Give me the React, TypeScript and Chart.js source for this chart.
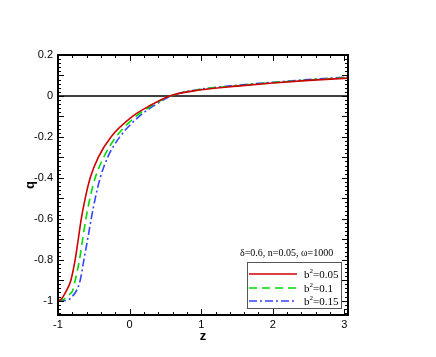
import React, { useEffect, useRef } from "react";
import { Chart, registerables } from "chart.js";

Chart.register(...registerables);

// z values and q values for each series
const zRed = [-1.0, -0.96, -0.92, -0.88, -0.82, -0.76, -0.717, -0.675, -0.62, -0.55, -0.438, -0.26, 0.04, 0.26, 0.56, 1.0, 1.5, 2.0, 2.5, 3.05];
const qRed = [-1.0, -0.995, -0.975, -0.95, -0.9, -0.8, -0.7, -0.6, -0.5, -0.4, -0.3, -0.2, -0.1, -0.052, 0.0, 0.03, 0.048, 0.063, 0.076, 0.087];

const zGreen = [-1.0, -0.93, -0.86, -0.795, -0.76, -0.7, -0.656, -0.61, -0.554, -0.48, -0.363, -0.19, 0.087, 0.29, 0.57, 1.0, 1.5, 2.0, 2.5, 3.05];
const qGreen = [-1.0, -0.995, -0.975, -0.95, -0.9, -0.8, -0.7, -0.6, -0.5, -0.4, -0.3, -0.2, -0.1, -0.052, 0.0, 0.032, 0.05, 0.065, 0.078, 0.09];

const zBlue = [-1.0, -0.93, -0.85, -0.79, -0.74, -0.69, -0.638, -0.586, -0.536, -0.48, -0.41, -0.307, -0.136, 0.133, 0.33, 0.58, 1.0, 1.5, 2.0, 2.5, 3.05];
const qBlue = [-1.0, -1.0, -0.995, -0.975, -0.95, -0.9, -0.8, -0.7, -0.6, -0.5, -0.4, -0.3, -0.2, -0.1, -0.05, 0.0, 0.033, 0.052, 0.067, 0.08, 0.093];

const seriesLabels = ["0.05", "0.1", "0.15"];
const seriesColors = ["#d00000", "#00dd00", "#3344ff"];
const seriesDash: number[][] = [[], [8, 5], [8, 3, 2, 3]];
const annotation = "\u03b4=0.6, n=0.05, \u03c9=1000";

const xTickLabels = [-1, 0, 1, 2, 3];
const yTickLabels = [-1, -0.8, -0.6, -0.4, -0.2, 0, 0.2];

const toPoints = (xs: number[], ys: number[]) => xs.map((x, i) => ({ x, y: ys[i] }));

const framePlugin = {
  id: "framePlugin",
  beforeDatasetsDraw(chart: any) {
    const { ctx, chartArea, scales } = chart;
    const y0 = scales.y.getPixelForValue(0);
    ctx.save();
    ctx.strokeStyle = "#000";
    ctx.lineWidth = 1.5;
    ctx.beginPath();
    ctx.moveTo(chartArea.left, y0);
    ctx.lineTo(chartArea.right, y0);
    ctx.stroke();
    ctx.restore();
  },
  afterDatasetsDraw(chart: any) {
    const { ctx, chartArea, scales } = chart;
    const { left, right, top, bottom } = chartArea;
    ctx.save();
    ctx.strokeStyle = "#000";
    ctx.lineWidth = 1;
    // x ticks
    for (let k = -5; k <= 15; k++) {
      const v = k * 0.2;
      const px = Math.round(scales.x.getPixelForValue(v)) + 0.5;
      if (px < left - 1 || px > right + 1) continue;
      const len = k % 5 === 0 ? 6 : 3;
      ctx.beginPath();
      ctx.moveTo(px, bottom);
      ctx.lineTo(px, bottom - len);
      ctx.moveTo(px, top);
      ctx.lineTo(px, top + len);
      ctx.stroke();
    }
    // y ticks
    for (let k = -53; k <= 10; k++) {
      const v = k * 0.02;
      const py = Math.round(scales.y.getPixelForValue(v)) + 0.5;
      if (py < top - 1 || py > bottom + 1) continue;
      const len = k % 5 === 0 ? 6 : 3;
      ctx.beginPath();
      ctx.moveTo(left, py);
      ctx.lineTo(left + len, py);
      ctx.moveTo(right, py);
      ctx.lineTo(right - len, py);
      ctx.stroke();
    }
    // frame
    ctx.lineWidth = 2;
    ctx.strokeRect(left, top, right - left, bottom - top);

    // axis titles
    ctx.fillStyle = "#000";
    ctx.font = "bold 13px 'Liberation Sans', Arial, sans-serif";
    ctx.textAlign = "center";
    ctx.textBaseline = "middle";
    ctx.fillText("z", (left + right) / 2, 336);
    ctx.save();
    ctx.translate(30, (top + bottom) / 2);
    ctx.rotate(-Math.PI / 2);
    ctx.fillText("q", 0, 0);
    ctx.restore();

    // annotation
    ctx.font = "10px 'Liberation Serif', 'Times New Roman', serif";
    ctx.textAlign = "left";
    ctx.textBaseline = "alphabetic";
    ctx.fillText(annotation, 240, 256);

    // legend box
    const bx = 247, by = 262, bw = 94, bh = 46;
    ctx.fillStyle = "#fff";
    ctx.fillRect(bx, by, bw, bh);
    ctx.strokeStyle = "#555";
    ctx.lineWidth = 1;
    ctx.strokeRect(bx + 0.5, by + 0.5, bw, bh);
    const rows = [274, 288, 301];
    seriesLabels.forEach((lab, i) => {
      const ry = rows[i];
      ctx.strokeStyle = seriesColors[i];
      ctx.lineWidth = 1.5;
      ctx.setLineDash(seriesDash[i]);
      ctx.beginPath();
      ctx.moveTo(249, ry);
      ctx.lineTo(297, ry);
      ctx.stroke();
      ctx.setLineDash([]);
      ctx.fillStyle = "#000";
      ctx.textBaseline = "alphabetic";
      ctx.font = "11px 'Liberation Serif', 'Times New Roman', serif";
      ctx.fillText("b", 304, ry + 4);
      const bwid = ctx.measureText("b").width;
      ctx.font = "7px 'Liberation Serif', 'Times New Roman', serif";
      ctx.fillText("2", 304 + bwid, ry - 1);
      const swid = ctx.measureText("2").width;
      ctx.font = "11px 'Liberation Serif', 'Times New Roman', serif";
      ctx.fillText("=" + lab, 304 + bwid + swid, ry + 4);
    });
    ctx.restore();
  },
};

export default function App() {
  const ref = useRef<HTMLCanvasElement | null>(null);
  useEffect(() => {
    if (!ref.current) return;
    const mk = (label: string, xs: number[], ys: number[], i: number) => ({
      label: "b\u00b2=" + label,
      data: toPoints(xs, ys),
      borderColor: seriesColors[i],
      borderWidth: 1.6,
      borderDash: seriesDash[i],
      pointRadius: 0,
      fill: false,
      cubicInterpolationMode: "monotone" as const,
    });
    const chart = new Chart(ref.current, {
      type: "line",
      data: {
        datasets: [
          mk(seriesLabels[0], zRed, qRed, 0),
          mk(seriesLabels[1], zGreen, qGreen, 1),
          mk(seriesLabels[2], zBlue, qBlue, 2),
        ],
      },
      options: {
        animation: false,
        responsive: false,
        layout: { padding: { left: 0, top: 55, right: 88, bottom: 0 } },
        plugins: { legend: { display: false }, tooltip: { enabled: false } },
        scales: {
          x: {
            type: "linear",
            min: -1,
            max: 3.05,
            grid: { display: false, drawTicks: false },
            border: { display: false },
            afterFit: (s: any) => { s.height = 42; },
            afterBuildTicks: (s: any) => { s.ticks = xTickLabels.map((v) => ({ value: v })); },
            ticks: {
              padding: 3,
              color: "#000",
              font: { family: "'Liberation Sans', Arial, sans-serif", size: 11 },
              callback: (v: any) => String(Math.round(Number(v))),
            },
          },
          y: {
            type: "linear",
            min: -1.07,
            max: 0.2,
            grid: { display: false, drawTicks: false },
            border: { display: false },
            afterFit: (s: any) => { s.width = 58; },
            afterBuildTicks: (s: any) => { s.ticks = yTickLabels.map((v) => ({ value: v })); },
            ticks: {
              padding: 5,
              color: "#000",
              font: { family: "'Liberation Sans', Arial, sans-serif", size: 11 },
              callback: (v: any) => String(Math.round(Number(v) * 10) / 10),
            },
          },
        },
      },
      plugins: [framePlugin],
    });
    return () => chart.destroy();
  }, []);
  return (
    <div style={{ position: "fixed", left: 0, top: 0, width: 436, height: 357, background: "#fff" }}>
      <canvas ref={ref} width={436} height={357} />
    </div>
  );
}
